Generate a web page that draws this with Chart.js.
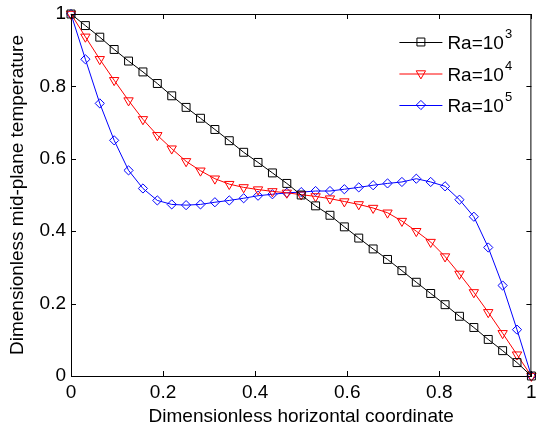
<!DOCTYPE html>
<html>
<head>
<meta charset="utf-8">
<script src="https://cdn.jsdelivr.net/npm/chart.js@4/dist/chart.umd.min.js"></script>
<style>
  html, body { margin: 0; padding: 0; background: #fff; }
  #wrap { width: 538px; height: 430px; }
</style>
</head>
<body>
<div id="wrap"><canvas id="chart"></canvas></div>
<script>
// x positions (dimensionless horizontal coordinate)
const xs = [0, 0.03125, 0.0625, 0.09375, 0.125, 0.15625, 0.1875, 0.21875, 0.25, 0.28125,
    0.3125, 0.34375, 0.375, 0.40625, 0.4375, 0.46875, 0.5, 0.53125, 0.5625, 0.59375,
    0.625, 0.65625, 0.6875, 0.71875, 0.75, 0.78125, 0.8125, 0.84375, 0.875, 0.90625,
    0.9375, 0.96875, 1];

// mid-plane temperature for each Rayleigh number
const ra3 = [1.0, 0.968, 0.936, 0.902, 0.870, 0.840, 0.808, 0.774, 0.742, 0.712,
    0.681, 0.650, 0.618, 0.590, 0.561, 0.532, 0.500, 0.470, 0.444, 0.412,
    0.381, 0.351, 0.322, 0.291, 0.259, 0.228, 0.197, 0.165, 0.134, 0.101,
    0.070, 0.037, 0.0];
const ra4 = [1.0, 0.937, 0.875, 0.817, 0.761, 0.709, 0.665, 0.628, 0.593, 0.567,
    0.545, 0.530, 0.521, 0.515, 0.510, 0.506, 0.501, 0.496, 0.490, 0.482,
    0.474, 0.464, 0.451, 0.428, 0.400, 0.370, 0.330, 0.282, 0.231, 0.176,
    0.118, 0.059, 0.0];
const ra5 = [1.0, 0.875, 0.753, 0.651, 0.568, 0.518, 0.485, 0.474, 0.472, 0.474,
    0.480, 0.485, 0.491, 0.498, 0.502, 0.506, 0.508, 0.511, 0.511, 0.516,
    0.521, 0.527, 0.532, 0.536, 0.545, 0.536, 0.524, 0.487, 0.440, 0.355,
    0.250, 0.128, 0.0];

const labelBase = ['Ra=10', 'Ra=10', 'Ra=10'];
const labelExp = ['3', '4', '5'];
const tickValues = [0, 0.2, 0.4, 0.6, 0.8, 1];

const FONT = 'Arial, "Liberation Sans", sans-serif';
const FS = 19;

function pts(ys) {
    return xs.map((x, i) => ({ x: x, y: ys[i] }));
}

function series(label, ys, color, style, rot, radius) {
    return {
        label: label,
        data: pts(ys),
        borderColor: color,
        backgroundColor: 'rgba(0,0,0,0)',
        borderWidth: 1,
        pointStyle: style,
        pointRotation: rot,
        pointRadius: radius,
        pointBorderWidth: 1,
        pointBackgroundColor: 'rgba(0,0,0,0)',
        pointBorderColor: color,
        tension: 0,
        clip: false
    };
}

// frame on top/right, inward ticks, and the legend inside the plot
const framePlugin = {
    id: 'frame',
    afterDraw(chart) {
        const ctx = chart.ctx;
        const a = chart.chartArea;
        const sx = chart.scales.x, sy = chart.scales.y;
        ctx.save();
        ctx.strokeStyle = '#000';
        ctx.lineWidth = 1;
        ctx.beginPath();
        ctx.moveTo(a.left, a.top + 0.5);
        ctx.lineTo(a.right, a.top + 0.5);
        ctx.moveTo(a.right - 0.5, a.top);
        ctx.lineTo(a.right - 0.5, a.bottom);
        const tl = 5;
        sx.ticks.forEach(t => {
            const px = Math.round(sx.getPixelForValue(t.value)) + 0.5;
            ctx.moveTo(px, a.bottom);
            ctx.lineTo(px, a.bottom - tl);
            ctx.moveTo(px, a.top);
            ctx.lineTo(px, a.top + tl);
        });
        sy.ticks.forEach(t => {
            const py = Math.round(sy.getPixelForValue(t.value)) + 0.5;
            ctx.moveTo(a.left, py);
            ctx.lineTo(a.left + tl, py);
            ctx.moveTo(a.right, py);
            ctx.lineTo(a.right - tl, py);
        });
        ctx.stroke();

        // legend
        const x0 = a.right - 132;
        const lineLen = 43;
        chart.data.datasets.forEach((ds, i) => {
            const y = a.top + 28 + i * 31.5;
            ctx.strokeStyle = ds.borderColor;
            ctx.lineWidth = 1;
            ctx.beginPath();
            ctx.moveTo(x0, y + 0.5);
            ctx.lineTo(x0 + lineLen, y + 0.5);
            ctx.stroke();
            ctx.fillStyle = 'rgba(0,0,0,0)';
            Chart.helpers.drawPoint(ctx, {
                pointStyle: ds.pointStyle,
                rotation: ds.pointRotation,
                radius: ds.pointRadius,
                borderWidth: 1
            }, x0 + lineLen / 2, y);
            ctx.fillStyle = '#000';
            ctx.textBaseline = 'alphabetic';
            ctx.textAlign = 'left';
            ctx.font = FS + 'px ' + FONT;
            const tx = x0 + lineLen + 5;
            ctx.fillText(labelBase[i], tx, y + 7);
            const w = ctx.measureText(labelBase[i]).width;
            ctx.font = '13px ' + FONT;
            ctx.fillText(labelExp[i], tx + w + 1, y - 4);
        });
        ctx.restore();
    }
};

const fmt = v => String(Math.round(v * 10) / 10);

const ctx = document.getElementById('chart').getContext('2d');
new Chart(ctx, {
    type: 'line',
    data: {
        datasets: [
            series('Ra=10^3', ra3, '#000000', 'rect', 0, 5.6),
            series('Ra=10^4', ra4, '#ff0000', 'triangle', 180, 5.4),
            series('Ra=10^5', ra5, '#0000ff', 'rectRot', 0, 4.6)
        ]
    },
    options: {
        responsive: true,
        maintainAspectRatio: false,
        animation: false,
        layout: { padding: { top: 14, right: 2, left: 0, bottom: 0 } },
        plugins: {
            legend: { display: false },
            tooltip: { enabled: false }
        },
        scales: {
            x: {
                type: 'linear',
                min: 0,
                max: 1,
                afterBuildTicks: s => { s.ticks = tickValues.map(v => ({ value: v })); },
                afterFit: s => { s.height = 54; s.paddingLeft = 0; s.paddingRight = 0; },
                grid: { display: false, drawTicks: false },
                border: { display: true, color: '#000', width: 1 },
                ticks: { color: '#000', font: { family: FONT, size: FS }, padding: 5, maxRotation: 0, callback: fmt },
                title: {
                    display: true,
                    text: 'Dimensionless horizontal coordinate',
                    color: '#000',
                    font: { family: FONT, size: FS },
                    padding: { top: 0, bottom: 2 }
                }
            },
            y: {
                type: 'linear',
                min: 0,
                max: 1,
                afterBuildTicks: s => { s.ticks = tickValues.map(v => ({ value: v })); },
                afterFit: s => { s.width = 71; s.paddingTop = 0; s.paddingBottom = 0; },
                grid: { display: false, drawTicks: false },
                border: { display: true, color: '#000', width: 1 },
                ticks: { color: '#000', font: { family: FONT, size: FS }, padding: 5, callback: fmt },
                title: {
                    display: true,
                    text: 'Dimensionless mid-plane temperature',
                    color: '#000',
                    font: { family: FONT, size: FS },
                    padding: { top: 6, bottom: 0 }
                }
            }
        }
    },
    plugins: [framePlugin]
});
</script>
</body>
</html>
